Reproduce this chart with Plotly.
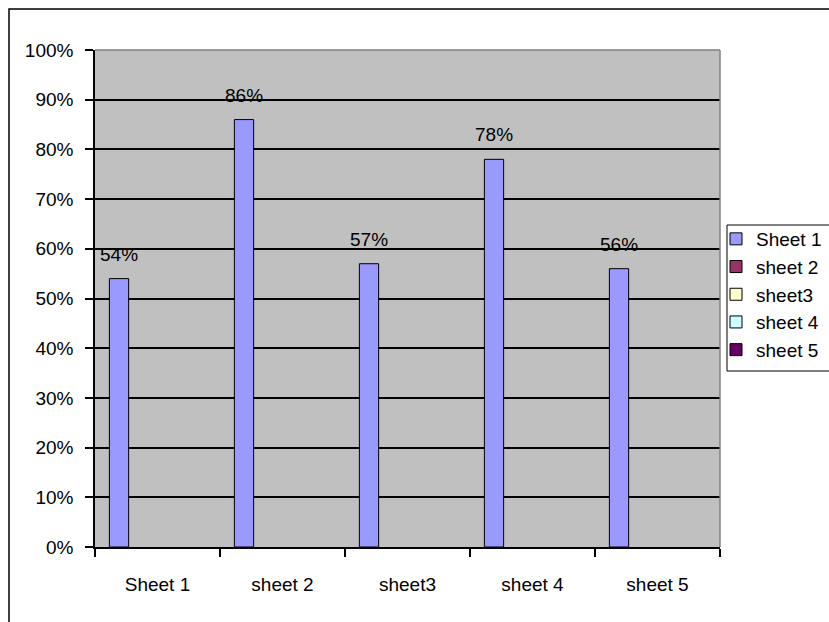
import plotly.graph_objects as go

categories = ["Sheet 1", "sheet 2", "sheet3", "sheet 4", "sheet 5"]
series_names = ["Sheet 1", "sheet 2", "sheet3", "sheet 4", "sheet 5"]
series_colors = ["#9999FF", "#993366", "#FFFFCC", "#CCFFFF", "#660066"]
sheet1_values = [0.54, 0.86, 0.57, 0.78, 0.56]
value_labels = ["54%", "86%", "57%", "78%", "56%"]
y_ticks = [i / 10 for i in range(11)]
y_tick_labels = [f"{i*10}%" for i in range(11)]

FONT = "Liberation Sans, Arial, sans-serif"
FS = 19
W, H = 829, 622
ML, MR, MT, MB = 95, 109, 50, 75
BARGAP = 0.23

fig = go.Figure()
for k, (name, color) in enumerate(zip(series_names, series_colors)):
    vals = sheet1_values if k == 0 else [None] * len(categories)
    fig.add_trace(go.Bar(
        name=name, x=categories, y=vals,
        marker=dict(color=color, line=dict(color="black", width=1)),
        hoverinfo="skip",
    ))

# data labels centred above the first-slot bars
n_series = len(series_names)
slot = (1 - BARGAP) / n_series
first_offset = -(1 - BARGAP) / 2 + slot / 2
annotations = []
for i, (v, lab) in enumerate(zip(sheet1_values, value_labels)):
    annotations.append(dict(
        x=i + first_offset, y=v, xref="x", yref="y", text=lab,
        showarrow=False, yanchor="bottom", yshift=12,
        font=dict(family=FONT, size=FS, color="black"),
    ))

pw = W - ML - MR
ph = H - MT - MB

def px_x(p):
    return (p - ML) / pw

def px_y(p):
    return (H - MB - p) / ph

shapes = [
    # outer chart frame
    dict(type="rect", xref="paper", yref="paper",
         x0=px_x(9), x1=px_x(W + 10), y0=px_y(H + 10), y1=px_y(9),
         line=dict(color="black", width=1.5), fillcolor="rgba(0,0,0,0)", layer="below"),
    # plot area top / right border (gray)
    dict(type="line", xref="paper", yref="paper", x0=0, x1=1, y0=1, y1=1,
         line=dict(color="#808080", width=1.5), layer="above"),
    dict(type="line", xref="paper", yref="paper", x0=1, x1=1, y0=0, y1=1,
         line=dict(color="#808080", width=1.5), layer="above"),
    # legend box
    dict(type="rect", xref="paper", yref="paper",
         x0=px_x(727), x1=px_x(W + 10), y0=px_y(371), y1=px_y(225),
         line=dict(color="black", width=1), fillcolor="white", layer="above"),
]

fig.update_layout(
    width=W, height=H,
    margin=dict(l=ML, r=MR, t=MT, b=MB, pad=0, autoexpand=False),
    paper_bgcolor="white", plot_bgcolor="#C0C0C0",
    barmode="group", bargap=BARGAP, bargroupgap=0,
    font=dict(family=FONT, size=FS, color="black"),
    showlegend=True,
    legend=dict(
        xref="container", yref="container",
        x=716 / W, y=1 - 220 / H, xanchor="left", yanchor="top",
        bgcolor="rgba(0,0,0,0)", borderwidth=0,
        font=dict(family=FONT, size=FS, color="black"),
        traceorder="normal", itemwidth=30, tracegroupgap=0,
    ),
    annotations=annotations,
    shapes=shapes,
)
fig.update_xaxes(
    type="category", categoryorder="array", categoryarray=categories,
    tickson="boundaries", ticks="outside", ticklen=8, tickwidth=1.5, tickcolor="black",
    showline=True, linecolor="black", linewidth=1.5, showgrid=False,
    ticklabelstandoff=19, tickfont=dict(family=FONT, size=FS, color="black"),
)
fig.update_yaxes(
    range=[0, 1], tickvals=y_ticks, ticktext=y_tick_labels,
    ticks="outside", ticklen=8, tickwidth=1.5, tickcolor="black",
    showline=True, linecolor="black", linewidth=1.5,
    showgrid=True, gridcolor="black", gridwidth=1.5, zeroline=False,
    ticklabelstandoff=8, tickfont=dict(family=FONT, size=FS, color="black"),
)

fig.write_html("out.html")
